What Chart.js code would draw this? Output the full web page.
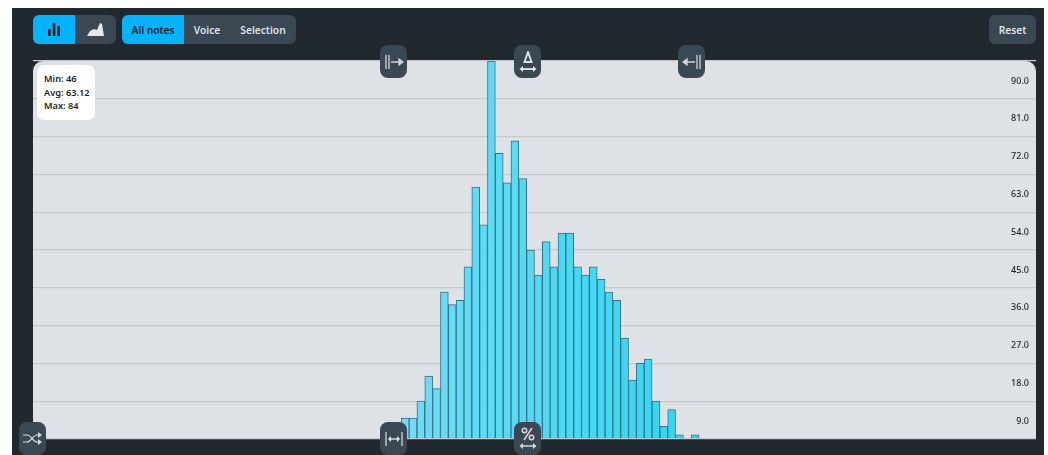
<!DOCTYPE html>
<html>
<head>
<meta charset="utf-8">
<style>
  html, body { margin: 0; padding: 0; background: #fff; overflow: hidden; }
  body { width: 1048px; height: 455px; position: relative; font-family: "Noto Sans", sans-serif; }
  #frame { position: absolute; left: 12px; top: 8px; width: 1032px; height: 447px; background: #21292f; }
  #panel { position: absolute; left: 33px; top: 61px; width: 1003px; height: 378px; background: #dee2e6; border-radius: 10px 10px 0 0; }
  #chartWrap { position: absolute; left: 0; top: 0; width: 1048px; height: 455px; }
  .btn { position: absolute; background: #3a4854; color: #dfe3e7; display: flex; align-items: center; justify-content: center; box-sizing: border-box; font-size: 10.2px; font-weight: 600; }
  .on { background: #00b4ff; color: #10161a; }
  .tool { width: 27px; height: 33px; border-radius: 8px; }
  #stats { position: absolute; left: 37px; top: 65px; width: 58px; height: 55px; background: #fff; border-radius: 7px; font-size: 9.2px; font-weight: 600; line-height: 13.7px; color: #1c2328; box-sizing: border-box; padding: 7px 0 0 7px; }
  svg { display: block; }
</style>
</head>
<body>
<div id="frame"></div>
<div id="panel"></div>
<div id="chartWrap"><canvas id="hist" width="1048" height="455"></canvas></div>

<div class="btn on" style="left:33px;top:15px;width:42px;height:29px;border-radius:6px 0 0 6px">
  <svg width="12" height="13"><rect x="0" y="6" width="2.6" height="7" fill="#10161a"/><rect x="4.7" y="0" width="2.6" height="13" fill="#10161a"/><rect x="9.4" y="3" width="2.6" height="10" fill="#10161a"/></svg>
</div>
<div class="btn" style="left:75px;top:15px;width:41px;height:29px;border-radius:0 6px 6px 0">
  <svg width="17" height="13"><path d="M0 13 L3 8 L7 6 L10 7 L13 0 L15 1 L17 13 Z" fill="#e6e9ec"/></svg>
</div>
<div class="btn on" style="left:122px;top:15px;width:62px;height:29px;border-radius:6px 0 0 6px">All notes</div>
<div class="btn" style="left:184px;top:15px;width:46px;height:29px">Voice</div>
<div class="btn" style="left:230px;top:15px;width:66px;height:29px;border-radius:0 6px 6px 0">Selection</div>
<div class="btn" style="left:989px;top:15px;width:47px;height:29px;border-radius:6px">Reset</div>

<div id="stats">Min: 46<br>Avg: 63.12<br>Max: 84</div>

<div class="btn tool" style="left:380px;top:45px">
  <svg width="20" height="14" stroke="#cfd4d8" stroke-width="1.3" fill="none"><path d="M2 0V14M5 0V14M7 7H16"/><path d="M15 4L19 7L15 10Z" fill="#cfd4d8"/></svg>
</div>
<div class="btn tool" style="left:514px;top:45px">
  <svg width="18" height="22" stroke="#dfe3e6" stroke-width="1.9" fill="none"><path d="M9 1L5.5 11H12.5Z"/><path d="M3 18H15" /><path d="M4 15L0.5 18L4 21ZM14 15L17.5 18L14 21Z" fill="#dfe3e6" stroke="none"/></svg>
</div>
<div class="btn tool" style="left:678px;top:45px">
  <svg width="20" height="14" stroke="#cfd4d8" stroke-width="1.3" fill="none"><path d="M18 0V14M15 0V14M13 7H4"/><path d="M5 4L1 7L5 10Z" fill="#cfd4d8"/></svg>
</div>
<div class="btn tool" style="left:19px;top:422px">
  <svg width="19" height="13" stroke="#d5d9dd" stroke-width="1.2" fill="none"><path d="M0 3H4C8 3 10 10 14 10H16M0 10H4C8 10 10 3 14 3H16"/><path d="M15 0L19 3L15 6ZM15 7L19 10L15 13Z" fill="#d5d9dd" stroke="none"/></svg>
</div>
<div class="btn tool" style="left:380px;top:422px">
  <svg width="18" height="14" stroke="#cfd4d8" stroke-width="1.3" fill="none"><path d="M1 0V14M17 0V14M4 7H14"/><path d="M6 4L3 7L6 10ZM12 4L15 7L12 10Z" fill="#e6e9ec" stroke="none"/></svg>
</div>
<div class="btn tool" style="left:514px;top:422px">
  <svg width="18" height="23" stroke="#d5d9dd" stroke-width="1.5" fill="none"><path d="M13 1L5 13"/><circle cx="5.5" cy="3.5" r="2.2"/><circle cx="12.5" cy="10.5" r="2.2"/><path d="M3 19H15"/><path d="M4 16L0.5 19L4 22ZM14 16L17.5 19L14 22Z" fill="#d5d9dd" stroke="none"/></svg>
</div>

<script src="https://cdn.jsdelivr.net/npm/chart.js@4/dist/chart.umd.min.js"></script>
<script>
// MIDI pitches 0-127, only 46-84 have notes
const pitchCount = 128;
const firstPitch = 46;
const counts = [2, 5, 5, 9, 15, 12, 35, 32, 33, 41, 60, 51, 90, 68, 61, 71, 62, 45, 39, 47, 41,
                49, 49, 41, 39, 41, 38, 35, 33, 24, 14, 18, 19, 9, 3, 7, 1, null, 1];
const yTicks = [0, 9, 18, 27, 36, 45, 54, 63, 72, 81, 90];

const labels = [];
const values = [];
const colors = [];
for (let p = 0; p < pitchCount; p++) {
    labels.push(String(p));
    const c = counts[p - firstPitch];
    values.push(c === undefined ? null : c);
    // bars get a bit more saturated going right
    const t = Math.max(0, Math.min(1, (p - firstPitch) / (counts.length - 1)));
    colors.push(`rgb(${Math.round(112 - t * 70)},${Math.round(221 - t * 6)},${Math.round(245)})`);
}

new Chart(document.getElementById('hist'), {
    type: 'bar',
    data: {
        labels,
        datasets: [{
            data: values,
            backgroundColor: colors,
            borderColor: '#3f6f80',
            borderWidth: 1,
            barPercentage: 1,
            categoryPercentage: 1,
        }]
    },
    options: {
        responsive: false,
        animation: false,
        layout: { padding: { left: 33, top: 61, right: 12, bottom: 16 } },
        plugins: { legend: { display: false }, tooltip: { enabled: false } },
        scales: {
            x: { display: false, grid: { display: false } },
            y: {
                position: 'right',
                min: 0,
                max: 90,
                afterBuildTicks: (axis) => { axis.ticks = yTicks.map(v => ({ value: v })); },
                afterFit: (axis) => { axis.width = 0; },
                grid: { color: '#c5c9cd', lineWidth: 1.3, drawTicks: false },
                border: { display: false },
                ticks: {
                    mirror: true,
                    padding: -7, // axis has no width, labels go back inside the plot
                    labelOffset: 20,
                    color: '#1c2328',
                    font: { family: 'Noto Sans', size: 9, weight: 500 },
                    callback: (v) => v === 0 ? '' : v.toFixed(1),
                }
            }
        }
    }
});
</script>
</body>
</html>
